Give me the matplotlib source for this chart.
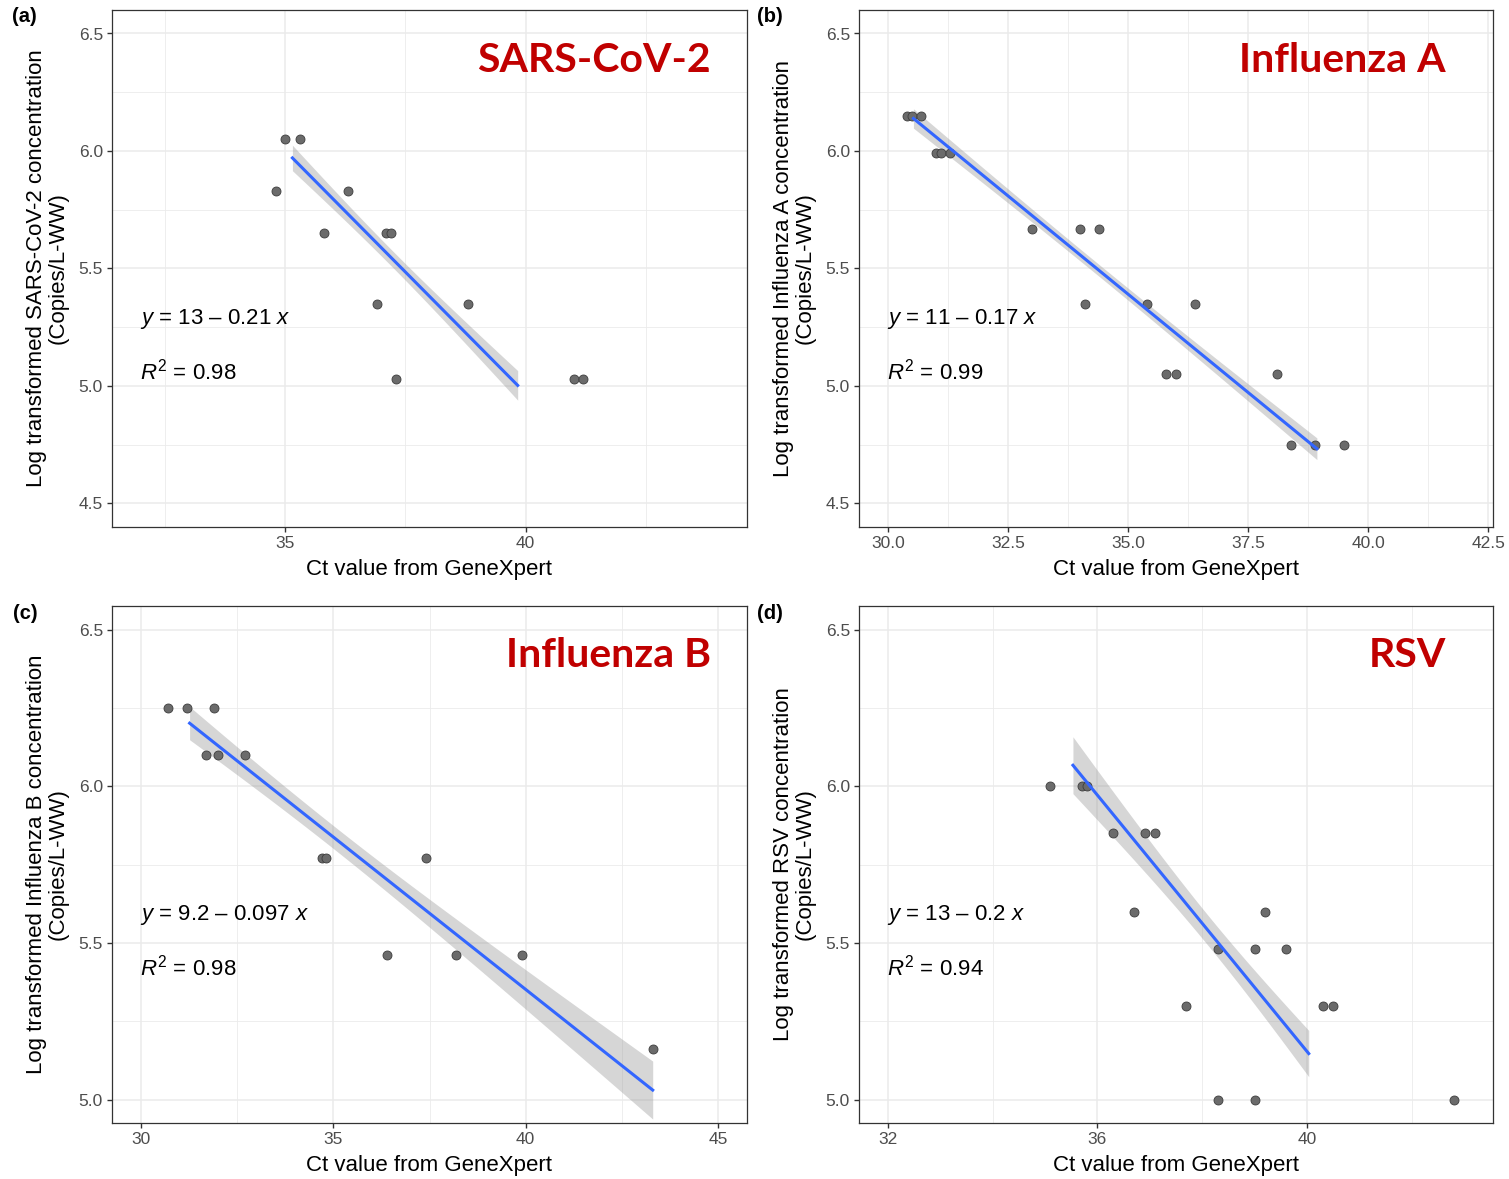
import numpy as np
import matplotlib
matplotlib.use("Agg")
import matplotlib.pyplot as plt
from matplotlib.ticker import FixedLocator

# ---------- data ----------
sars_ct = [35.0, 35.3, 34.8, 36.3, 35.8, 37.1, 37.2, 36.9, 38.8, 37.3, 41.0, 41.2]
sars_conc = [6.05, 6.05, 5.83, 5.83, 5.65, 5.65, 5.65, 5.35, 5.35, 5.03, 5.03, 5.03]

flua_ct = [30.4, 30.5, 30.7, 31.0, 31.1, 31.3, 33.0, 34.0, 34.4, 34.1, 35.4, 36.4,
           35.8, 36.0, 38.1, 38.4, 38.9, 39.5]
flua_conc = [6.15, 6.15, 6.15, 5.99, 5.99, 5.99, 5.67, 5.67, 5.67, 5.35, 5.35, 5.35,
             5.05, 5.05, 5.05, 4.75, 4.75, 4.75]

flub_ct = [30.7, 31.2, 31.9, 31.7, 32.0, 32.7, 34.7, 34.8, 37.4, 36.4, 38.2, 39.9, 43.3]
flub_conc = [6.25, 6.25, 6.25, 6.10, 6.10, 6.10, 5.77, 5.77, 5.77, 5.46, 5.46, 5.46, 5.16]

rsv_ct = [35.1, 35.7, 35.8, 36.3, 36.9, 37.1, 36.7, 39.2, 38.3, 39.0, 39.6, 37.7,
          40.3, 40.5, 38.3, 39.0, 42.8]
rsv_conc = [6.00, 6.00, 6.00, 5.85, 5.85, 5.85, 5.60, 5.60, 5.48, 5.48, 5.48, 5.30,
            5.30, 5.30, 5.00, 5.00, 5.00]

names = ["SARS-CoV-2", "Influenza A", "Influenza B", "RSV"]
letters = ["(a)", "(b)", "(c)", "(d)"]
eq_labels = ["13 \u2013 0.21", "11 \u2013 0.17", "9.2 \u2013 0.097", "13 \u2013 0.2"]
r2_labels = ["0.98", "0.99", "0.98", "0.94"]

x_major = [[35, 40], [30, 32.5, 35, 37.5, 40, 42.5], [30, 35, 40, 45], [32, 36, 40]]
x_minor = [[32.5, 37.5, 42.5], [31.25, 33.75, 36.25, 38.75, 41.25],
           [32.5, 37.5, 42.5], [34, 38, 42]]
x_lims = [(31.4, 44.6), (29.4, 42.6), (29.25, 45.75), (31.45, 43.55)]
y_major = [[4.5, 5.0, 5.5, 6.0, 6.5]] * 2 + [[5.0, 5.5, 6.0, 6.5]] * 2
y_minor = [[4.75, 5.25, 5.75, 6.25]] * 2 + [[5.25, 5.75, 6.25]] * 2
y_lims = [(4.4, 6.6)] * 2 + [(4.925, 6.575)] * 2

# ---------- style ----------
W, H = 1509, 1179
BLUE = "#3366FF"
RED = "#C00000"
BORDER = "#333333"
GRIDC = "#EBEBEB"
TICKC = "#4D4D4D"
T975 = {10: 2.228, 11: 2.201, 15: 2.131, 16: 2.120}   # two-sided 95% t quantiles

plt.rcParams.update({
    "font.family": ["Liberation Sans", "DejaVu Sans"],
    "mathtext.fontset": "custom",
    "mathtext.rm": "Liberation Sans",
    "mathtext.it": "Liberation Sans:italic",
    "axes.unicode_minus": False,
})

# axes boxes in pixels: left, top, right, bottom
boxes = [(112, 10, 747, 527), (859, 10, 1493, 527),
         (112, 606, 747, 1123), (859, 606, 1493, 1123)]
title_xy = [(711, 72), (1446, 72), (711, 667), (1446, 667)]
letter_xy = [(12, 7), (757, 7), (13, 604), (757, 604)]

data = [(sars_ct, sars_conc), (flua_ct, flua_conc), (flub_ct, flub_conc), (rsv_ct, rsv_conc)]

fig = plt.figure(figsize=(W / 100, H / 100), dpi=100)

for i, (ct, conc) in enumerate(data):
    l, t, r, b = boxes[i]
    ax = fig.add_axes([l / W, 1 - b / H, (r - l) / W, (b - t) / H])
    ct = np.array(ct)
    conc = np.array(conc)

    # lm on mean Ct of each concentration level, one row per replicate
    xm = np.array([ct[conc == v].mean() for v in conc])
    slope, icpt = np.polyfit(xm, conc, 1)
    n = len(xm)
    resid = conc - (icpt + slope * xm)
    s = np.sqrt((resid ** 2).sum() / (n - 2))
    sxx = ((xm - xm.mean()) ** 2).sum()
    xs = np.linspace(xm.min(), xm.max(), 80)
    yh = icpt + slope * xs
    se = s * np.sqrt(1 / n + (xs - xm.mean()) ** 2 / sxx)
    half = T975[n - 2] * se

    ax.fill_between(xs, yh - half, yh + half, color="#999999",
                    alpha=0.4, linewidth=0, zorder=2)
    ax.scatter(ct, conc, s=42, facecolor="#6b6b6b", edgecolor="#3d3d3d",
               linewidths=0.6, zorder=3)
    ax.plot(xs, yh, color=BLUE, linewidth=2.2, zorder=4)

    ax.set_xlim(*x_lims[i])
    ax.set_ylim(*y_lims[i])
    ax.xaxis.set_major_locator(FixedLocator(x_major[i]))
    ax.xaxis.set_minor_locator(FixedLocator(x_minor[i]))
    ax.yaxis.set_major_locator(FixedLocator(y_major[i]))
    ax.yaxis.set_minor_locator(FixedLocator(y_minor[i]))
    ax.set_xticklabels([f"{v:.1f}" if i == 1 else f"{v:g}" for v in x_major[i]])
    ax.set_yticklabels([f"{v:.1f}" for v in y_major[i]])
    ax.grid(which="major", color=GRIDC, linewidth=1.1, zorder=0)
    ax.grid(which="minor", color=GRIDC, linewidth=0.6, zorder=0)
    ax.set_axisbelow(True)
    ax.tick_params(which="major", direction="out", length=3.5, width=1.0,
                   color=BORDER, labelcolor=TICKC, labelsize=12.5, pad=3)
    ax.tick_params(which="minor", length=0)
    for sp in ax.spines.values():
        sp.set_color(BORDER)
        sp.set_linewidth(0.9)

    ax.set_xlabel("Ct value from GeneXpert", fontsize=16, labelpad=6)
    ax.set_ylabel(f"Log transformed {names[i]} concentration\n(Copies/L-WW)",
                  fontsize=16, labelpad=7, linespacing=1.05)

    ax.text(0.044, 0.402, r"$\mathit{y}$ = " + eq_labels[i] + r" $\mathit{x}$",
            transform=ax.transAxes, fontsize=16, ha="left", va="center")
    ax.text(0.044, 0.300, r"$\mathit{R}^2$ = " + r2_labels[i],
            transform=ax.transAxes, fontsize=16, ha="left", va="center")

    tx, ty = title_xy[i]
    fig.text(tx / W, 1 - ty / H, names[i], color=RED, fontsize=29.5,
             fontweight="bold", family="Lato", ha="right", va="baseline")
    lx, ly = letter_xy[i]
    fig.text(lx / W, 1 - ly / H, letters[i], fontsize=14.5, fontweight="bold",
             ha="left", va="top")

fig.savefig("out.png", dpi=100)
